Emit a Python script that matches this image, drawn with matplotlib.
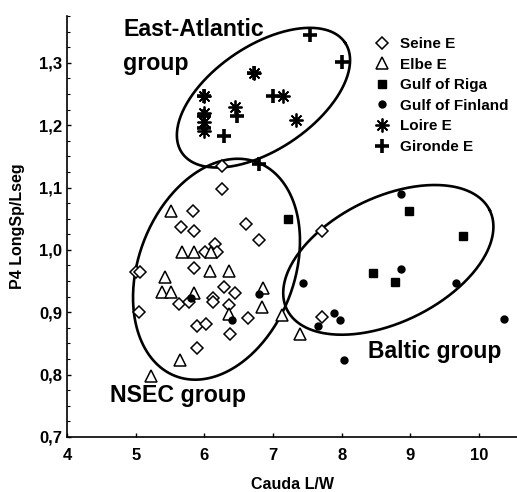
import numpy as np
import matplotlib
matplotlib.use('Agg')
import matplotlib.pyplot as plt
from matplotlib.ticker import MultipleLocator, FixedLocator

plt.rcParams['font.family'] = ['Liberation Sans', 'DejaVu Sans']
plt.rcParams['font.weight'] = 'bold'

# data
seine_x = [5.005, 5.07, 5.05, 5.63, 5.77, 5.84, 5.66, 5.85, 6.01, 5.85, 5.89, 6.02, 5.89,
           6.25, 6.25, 6.60, 6.79, 6.155, 6.19, 6.28, 6.45, 6.12, 6.12, 6.36, 6.64, 6.37,
           7.71, 7.71]
seine_y = [0.965, 0.965, 0.901, 0.913, 0.917, 1.062, 1.037, 1.030, 0.997, 0.971, 0.878, 0.881, 0.842,
           1.134, 1.098, 1.042, 1.016, 1.010, 0.997, 0.941, 0.931, 0.923, 0.917, 0.911, 0.891, 0.865,
           1.030, 0.893]

elbe_x = [5.51, 5.67, 5.85, 6.09, 5.42, 5.38, 5.51, 5.85, 6.08, 6.36, 6.36, 6.85, 6.84,
          7.13, 7.40, 5.65, 5.23]
elbe_y = [1.063, 0.997, 0.997, 0.997, 0.956, 0.933, 0.932, 0.931, 0.966, 0.966, 0.897, 0.939, 0.908,
          0.896, 0.865, 0.824, 0.798]

riga_x = [7.22, 8.985, 9.76, 8.45, 8.77]
riga_y = [1.049, 1.063, 1.023, 0.963, 0.948]

finland_x = [5.80, 6.41, 6.79, 8.86, 8.86, 7.44, 9.67, 7.89, 7.97, 7.65, 10.37, 8.04]
finland_y = [0.923, 0.888, 0.930, 1.090, 0.969, 0.947, 0.947, 0.899, 0.888, 0.878, 0.889, 0.824]

loire_x = [6.0, 6.72, 7.15, 6.44, 7.34, 6.0, 6.0, 6.0]
loire_y = [1.247, 1.284, 1.247, 1.229, 1.208, 1.22, 1.205, 1.19]

gironde_x = [7.54, 8.0, 6.0, 6.72, 7.0, 6.48, 6.0, 6.29, 6.80, 6.0]
gironde_y = [1.344, 1.302, 1.247, 1.284, 1.247, 1.214, 1.215, 1.182, 1.138, 1.195]

# group ellipses: centre, semi-axes (in x units), angle (deg, on screen)
groups = {
    'East': (6.861, 1.244, 1.433, 0.756, 34),
    'NSEC': (6.177, 0.969, 1.667, 1.134, 69),
    'Baltic': (8.679, 0.984, 1.644, 0.910, 26),
}

fig = plt.figure(figsize=(5.17, 4.92), dpi=100)
ax = fig.add_axes([0.1296, 0.1118, 0.8704, 0.8557])
ax.set_xlim(4, 10.553)
ax.set_ylim(0.7, 1.375)

# screen aspect: pixels per x unit / pixels per y unit
k = (0.8704 * 517 / 6.553) / (0.8557 * 492 / 0.675)
t = np.linspace(0, 2 * np.pi, 300)
for cx, cy, a, b, ang in groups.values():
    th = np.radians(ang)
    dx = a * np.cos(t) * np.cos(th) - b * np.sin(t) * np.sin(th)
    dy = a * np.cos(t) * np.sin(th) + b * np.sin(t) * np.cos(th)
    ax.plot(cx + dx, cy + dy * k, color='black', lw=1.9, zorder=1)

ax.plot(seine_x, seine_y, 'D', ms=6, mfc='white', mec='black', mew=1.1, label='Seine E', zorder=3)
ax.plot(elbe_x, elbe_y, '^', ms=9, mfc='white', mec='black', mew=1.1, label='Elbe E', zorder=3)
ax.plot(riga_x, riga_y, 's', ms=6, color='black', label='Gulf of Riga', zorder=3)
ax.plot(finland_x, finland_y, 'o', ms=5, color='black', label='Gulf of Finland', zorder=3)
ax.plot(loire_x, loire_y, marker=(8, 2, 0), ls='none', ms=10, color='black', mew=1.3,
        label='Loire E', zorder=4)
ax.plot(gironde_x, gironde_y, '+', ms=10, color='black', mew=2.6, label='Gironde E', zorder=4)

ax.legend(loc='upper left', bbox_to_anchor=(0.66, 0.968), frameon=False,
          prop={'size': 11, 'weight': 'bold'}, handlelength=1.3, handletextpad=0.55,
          labelspacing=0.43, borderpad=0, numpoints=1)

ax.text(4.82, 1.3425, 'East-Atlantic', fontsize=16.7, fontweight='bold', va='baseline', ha='left')
ax.text(4.82, 1.289, 'group', fontsize=16.7, fontweight='bold', va='baseline', ha='left')
ax.text(4.626, 0.7567, 'NSEC group', fontsize=16.7, fontweight='bold', va='baseline', ha='left')
ax.text(8.379, 0.8263, 'Baltic group', fontsize=16.5, fontweight='bold', va='baseline', ha='left')

ax.spines['top'].set_visible(False)
ax.spines['right'].set_visible(False)
ax.spines['left'].set_linewidth(1.2)
ax.spines['bottom'].set_linewidth(1.2)

ax.xaxis.set_major_locator(FixedLocator([4, 5, 6, 7, 8, 9, 10]))
ax.yaxis.set_major_locator(MultipleLocator(0.1))
ax.yaxis.set_minor_locator(MultipleLocator(0.025))
ax.set_yticklabels([f'{v:.1f}'.replace('.', ',') for v in ax.get_yticks()])
ax.tick_params(direction='in', length=3, width=1, labelsize=12)
ax.tick_params(axis='y', which='minor', direction='in', length=2, width=0.8)
ax.tick_params(axis='x', pad=8)
for lab in ax.get_xticklabels() + ax.get_yticklabels():
    lab.set_fontweight('bold')

ax.set_xlabel('Cauda L/W', fontsize=11.5, fontweight='bold', labelpad=10)
ax.set_ylabel('P4 LongSp/Lseg', fontsize=11.5, fontweight='bold', labelpad=10)

fig.savefig('out.png', dpi=100)
